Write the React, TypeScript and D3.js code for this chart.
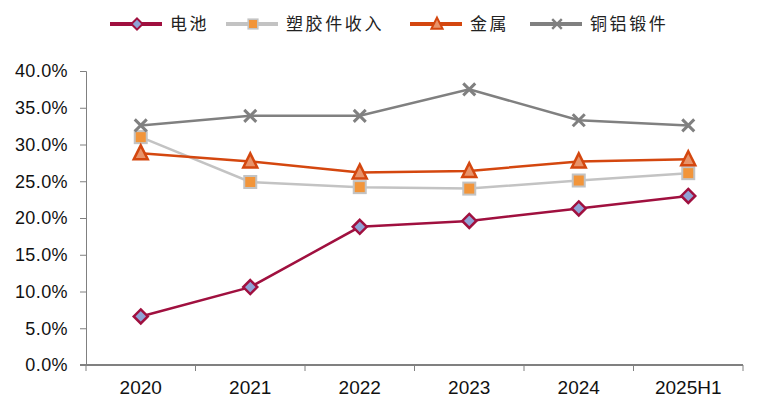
import * as d3 from 'd3';
import React, { useEffect, useRef } from 'react';

const categories = ['2020', '2021', '2022', '2023', '2024', '2025H1'];
const seriesNames = ['电池', '塑胶件收入', '金属', '铜铝锻件'];
const battery = [6.6, 10.6, 18.8, 19.6, 21.3, 23.0];
const plastic = [31.0, 24.9, 24.2, 24.0, 25.1, 26.1];
const metal = [28.8, 27.7, 26.2, 26.4, 27.7, 28.0];
const forgings = [32.6, 33.9, 33.9, 37.5, 33.3, 32.6];
const yTicks = [0, 5, 10, 15, 20, 25, 30, 35, 40];

type Marker = 'diamond' | 'square' | 'triangle' | 'cross';

interface SeriesStyle {
	name: string;
	values: number[];
	line: string;
	marker: Marker;
	fill: string;
	stroke: string;
	width: number;
}

const series: SeriesStyle[] = [
	{ name: seriesNames[0], values: battery, line: '#a0103f', marker: 'diamond', fill: '#8fa3d6', stroke: '#a0103f', width: 2.5 },
	{ name: seriesNames[1], values: plastic, line: '#c3c3c3', marker: 'square', fill: '#f2953a', stroke: '#c3c3c3', width: 2.5 },
	{ name: seriesNames[2], values: metal, line: '#d4470f', marker: 'triangle', fill: '#e8936a', stroke: '#d4470f', width: 2.5 },
	{ name: seriesNames[3], values: forgings, line: '#808080', marker: 'cross', fill: 'none', stroke: '#808080', width: 2.5 },
];

const drawMarker = (g: d3.Selection<SVGGElement, unknown, null, undefined>, s: SeriesStyle, x: number, y: number, k = 1) => {
	if (s.marker === 'diamond') {
		g.append('path')
			.attr('d', `M${x},${y - 7 * k}L${x + 7 * k},${y}L${x},${y + 7 * k}L${x - 7 * k},${y}Z`)
			.attr('fill', s.fill).attr('stroke', s.stroke).attr('stroke-width', 2.5 * k);
	} else if (s.marker === 'square') {
		g.append('rect')
			.attr('x', x - 6 * k).attr('y', y - 6 * k).attr('width', 12 * k).attr('height', 12 * k)
			.attr('fill', s.fill).attr('stroke', s.stroke).attr('stroke-width', 2 * k);
	} else if (s.marker === 'triangle') {
		g.append('path')
			.attr('d', `M${x},${y - 8 * k}L${x + 7 * k},${y + 6 * k}L${x - 7 * k},${y + 6 * k}Z`)
			.attr('fill', s.fill).attr('stroke', s.stroke).attr('stroke-width', 2.5 * k);
	} else {
		g.append('path')
			.attr('d', `M${x - 6 * k},${y - 6 * k}L${x + 6 * k},${y + 6 * k}M${x + 6 * k},${y - 6 * k}L${x - 6 * k},${y + 6 * k}`)
			.attr('stroke', s.stroke).attr('stroke-width', 3 * k).attr('fill', 'none');
	}
};

export default function App(): React.JSX.Element {
	const ref = useRef<SVGSVGElement | null>(null);

	useEffect(() => {
		document.body.style.margin = '0';
		if (ref.current === null) return;
		const root = d3.select(ref.current);
		root.selectAll('*').remove();

		const width = 765;
		const height = 407;
		const margin = { top: 71, right: 22, bottom: 42, left: 86 };

		root.append('rect').attr('width', width).attr('height', height).attr('fill', '#fff');

		const x = d3.scaleBand().domain(categories).range([margin.left, width - margin.right]);
		const y = d3.scaleLinear().domain([0, 40]).range([height - margin.bottom, margin.top]);

		// y axis
		const yAxis = root.append('g')
			.attr('transform', `translate(${margin.left},0)`)
			.call(d3.axisLeft(y).tickValues(yTicks).tickSize(6).tickFormat((d) => `${(+d).toFixed(1)}%`));
		yAxis.select('.domain').attr('stroke', '#808080');
		yAxis.selectAll('line').attr('stroke', '#808080');
		yAxis.selectAll('text')
			.attr('font-family', '"Liberation Sans", Arial, sans-serif')
			.attr('font-size', 18)
			.attr('letter-spacing', 0.4)
			.attr('fill', '#111')
			.attr('x', -18);

		// x axis
		const y0 = y(0);
		const xAxis = root.append('g');
		xAxis.append('line')
			.attr('x1', margin.left - 6).attr('x2', width - margin.right)
			.attr('y1', y0).attr('y2', y0)
			.attr('stroke', '#808080').attr('stroke-width', 2);
		const bounds = [...categories.map((c) => x(c) ?? 0), width - margin.right];
		xAxis.selectAll('line.tick')
			.data(bounds)
			.enter()
			.append('line')
			.attr('class', 'tick')
			.attr('x1', (d) => d).attr('x2', (d) => d)
			.attr('y1', y0).attr('y2', y0 + 6)
			.attr('stroke', '#808080');
		xAxis.selectAll('text')
			.data(categories)
			.enter()
			.append('text')
			.attr('x', (d) => (x(d) ?? 0) + x.bandwidth() / 2)
			.attr('y', y0 + 29)
			.attr('text-anchor', 'middle')
			.attr('font-family', '"Liberation Sans", Arial, sans-serif')
			.attr('font-size', 19)
			.attr('fill', '#111')
			.text((d) => d);

		const cx = (i: number) => (x(categories[i]) ?? 0) + x.bandwidth() / 2;
		const line = d3.line<number>().x((_, i) => cx(i)).y((d) => y(d));

		series.forEach((s) => {
			root.append('path')
				.datum(s.values)
				.attr('d', line)
				.attr('fill', 'none')
				.attr('stroke', s.line)
				.attr('stroke-width', s.width);
		});
		series.forEach((s) => {
			const g = root.append('g');
			s.values.forEach((v, i) => drawMarker(g, s, cx(i), y(v)));
		});

		// legend
		const legendX = [110, 226, 410, 530];
		const ly = 24;
		series.forEach((s, i) => {
			const g = root.append('g');
			const lx = legendX[i];
			g.append('line')
				.attr('x1', lx).attr('x2', lx + 52)
				.attr('y1', ly).attr('y2', ly)
				.attr('stroke', s.line).attr('stroke-width', 4);
			drawMarker(g, s, lx + 27, ly, 0.8);
			g.append('text')
				.attr('x', lx + 60)
				.attr('y', ly + 6)
				.attr('font-family', '"Noto Sans CJK SC", sans-serif')
				.attr('font-size', 17)
				.attr('fill', '#222')
				.attr('letter-spacing', 2.6)
				.text(s.name);
		});
	}, []);

	return <svg ref={ref} width={765} height={407} style={{ display: 'block' }} />;
}
